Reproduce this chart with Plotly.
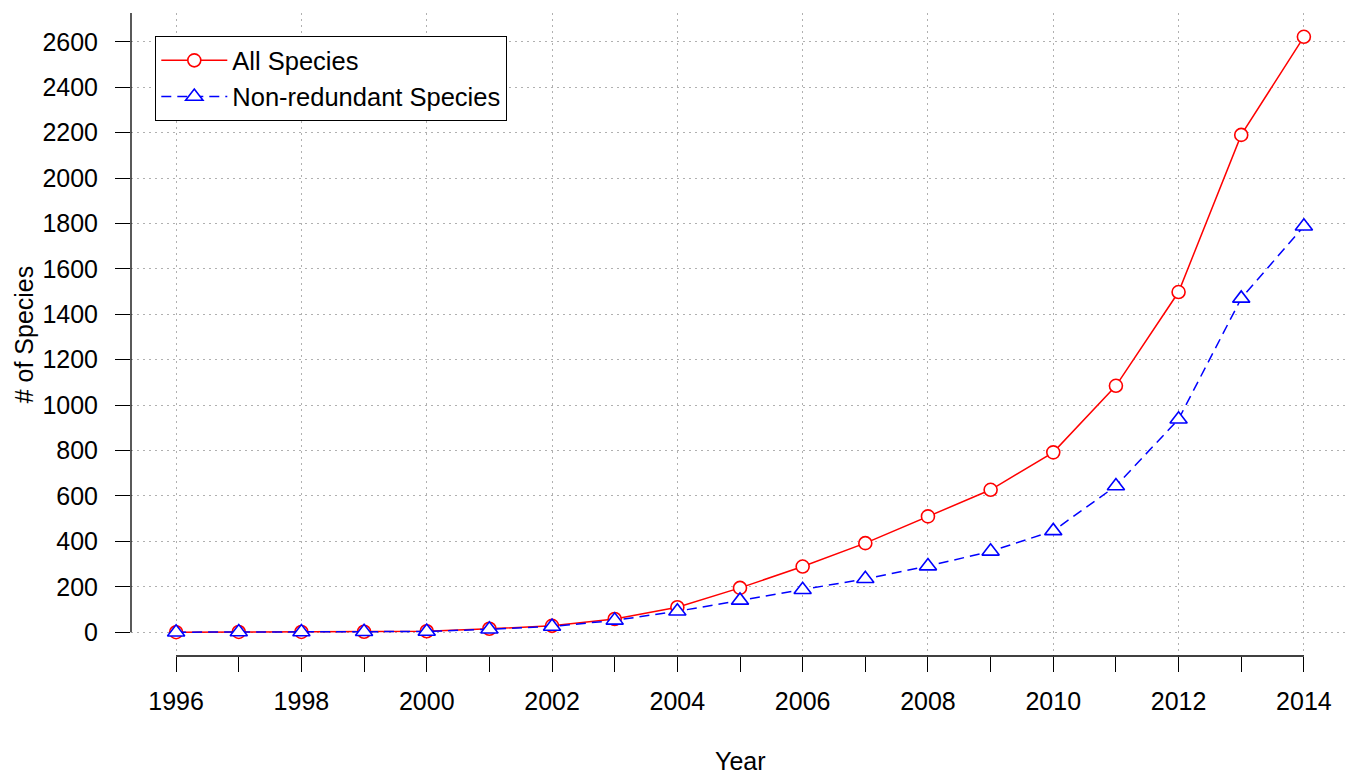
import plotly.graph_objects as go

years = list(range(1996, 2015))
all_species = [0, 1, 1, 2, 4, 15, 28, 58, 110, 195, 289, 392, 510, 627, 792, 1085, 1498, 2190, 2622]
nonredundant = [0, 1, 1, 2, 3, 13, 25, 52, 92, 140, 187, 235, 291, 356, 446, 644, 938, 1470, 1788]
x_label_years = list(range(1996, 2015, 2))
y_ticks = list(range(0, 2601, 200))

FONT = "Liberation Sans, Arial, Helvetica, sans-serif"
FS = 25

# R-style 4% axis extension
xr = [years[0] - 0.04 * (years[-1] - years[0]), years[-1] + 0.04 * (years[-1] - years[0])]
ymax = max(all_species)
yr = [-0.04 * ymax, ymax * 1.04]

fig = go.Figure()
fig.add_trace(go.Scatter(
    x=years, y=all_species, name="All Species", mode="lines+markers",
    line=dict(color="#FF0000", width=1.5),
    marker=dict(symbol="circle", size=13, color="white", line=dict(color="#FF0000", width=1.6)),
))
fig.add_trace(go.Scatter(
    x=years, y=nonredundant, name="Non-redundant Species", mode="lines+markers",
    line=dict(color="#0000FF", width=1.5, dash="10px,6px"),
    marker=dict(symbol="triangle-up", size=15, color="white", line=dict(color="#0000FF", width=1.6)),
))

grid = dict(showgrid=True, gridcolor="#B0B0B0", gridwidth=1.3, griddash="2px,4px")

fig.update_xaxes(
    range=xr, tickmode="array", tickvals=x_label_years, ticktext=[str(y) for y in x_label_years],
    ticks="outside", ticklen=15, tickwidth=1.3, tickcolor="black",
    minor=dict(ticks="outside", ticklen=15, tickwidth=1.3, tickcolor="black", dtick=1, tick0=years[0], showgrid=False),
    showline=False, zeroline=False, ticklabelstandoff=8,
    tickfont=dict(family=FONT, size=FS, color="black"), **grid,
)
fig.update_yaxes(
    range=yr, tickmode="array", tickvals=y_ticks, ticks="outside", ticklen=15, tickwidth=1.3,
    tickcolor="black", showline=False, zeroline=False, ticklabelstandoff=12,
    tickfont=dict(family=FONT, size=FS, color="black"), **grid,
)

# R-style axis lines
fig.add_shape(type="line", xref="x", yref="paper", x0=years[0], x1=years[-1], y0=0, y1=0,
              line=dict(color="black", width=1.3))
fig.add_shape(type="line", xref="paper", yref="y", x0=0, x1=0, y0=y_ticks[0], y1=yr[1],
              line=dict(color="black", width=1.3))

fig.add_annotation(text="Year", xref="paper", yref="paper", x=0.5, y=-0.163,
                   showarrow=False, yanchor="middle", font=dict(family=FONT, size=FS, color="black"))
fig.add_annotation(text="# of Species", xref="paper", yref="paper", x=-0.088, y=0.5,
                   textangle=-90, showarrow=False, xanchor="center",
                   font=dict(family=FONT, size=FS, color="black"))

fig.update_layout(
    width=1349, height=775,
    margin=dict(l=131, r=0, t=13, b=119),
    plot_bgcolor="white", paper_bgcolor="white",
    font=dict(family=FONT, size=FS, color="black"),
    legend=dict(x=0.0197, y=0.9643, xanchor="left", yanchor="top",
                bordercolor="black", borderwidth=1.3, bgcolor="white",
                font=dict(family=FONT, size=25.5, color="black"),
                itemwidth=66, tracegroupgap=0, entrywidth=360, entrywidthmode="pixels"),
    showlegend=True,
)

fig.write_html("out.html", config={"displayModeBar": False},
               post_script="document.body.style.margin='0';document.body.style.overflow='hidden';")
